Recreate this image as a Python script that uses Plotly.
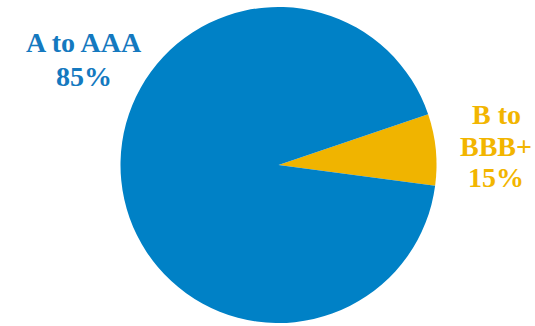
import plotly.graph_objects as go

# Data
categories = ["B to BBB+", "A to AAA"]
shares = [7.3, 92.7]            # slice sizes as drawn in the picture
label_lines = [["B to", "BBB+", "15%"], ["A to AAA", "85%"]]
colors = ["#F0B400", "#0081C6"]
text_colors = ["#F2B500", "#1479BF"]

W, H = 535, 326

fig = go.Figure(go.Pie(
    labels=categories,
    values=shares,
    sort=False,
    direction="clockwise",
    rotation=71.3,
    marker=dict(colors=colors, line=dict(width=0)),
    textinfo="none",
    hoverinfo="skip",
    showlegend=False,
    domain=dict(x=[120.5 / W, 436.5 / W], y=[1 - 323 / H, 1 - 7 / H]),
))

# label block placement (pixel centre x, first line centre y, line step)
label_pos = [(496, 114.5, 31.7), (83.5, 42.5, 33.5)]
for lines, col, (px, py, step) in zip(label_lines, text_colors, label_pos):
    for i, line in enumerate(lines):
        fig.add_annotation(
            text=line,
            x=px / W, y=1 - (py + i * step) / H, xref="paper", yref="paper",
            xanchor="center", yanchor="middle", showarrow=False,
            font=dict(family="Liberation Serif, DejaVu Serif", size=28, color=col, weight="bold"),
            align="center",
        )

fig.update_layout(
    width=W, height=H,
    margin=dict(l=0, r=0, t=0, b=0),
    paper_bgcolor="white", plot_bgcolor="white",
)

fig.write_html("out.html")
